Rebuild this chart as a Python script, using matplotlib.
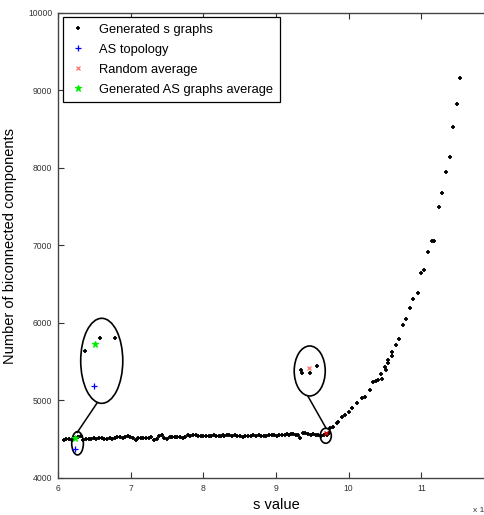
import matplotlib
matplotlib.use("Agg")
import matplotlib.pyplot as plt
from matplotlib.patches import Ellipse

plt.rcParams['font.family'] = ['Liberation Sans', 'DejaVu Sans']

# ---- data ----
flat_x = [6.08, 6.11, 6.15, 6.19, 6.22, 6.25, 6.28, 6.31, 6.35, 6.38, 6.42, 6.45, 6.49, 6.52,
          6.56, 6.60, 6.63, 6.67, 6.71, 6.74, 6.78, 6.81, 6.85, 6.89, 6.92, 6.96, 6.99, 7.03,
          7.07, 7.10, 7.14, 7.17, 7.21, 7.25, 7.28, 7.32, 7.36, 7.39, 7.43, 7.46, 7.50, 7.54,
          7.57, 7.61, 7.64, 7.68, 7.72, 7.75, 7.79, 7.82, 7.86, 7.90, 7.93, 7.97, 8.00, 8.04,
          8.08, 8.11, 8.15, 8.18, 8.22, 8.25, 8.27, 8.29, 8.33, 8.36, 8.40, 8.43, 8.47, 8.50,
          8.54, 8.58, 8.61, 8.65, 8.68, 8.72, 8.76, 8.79, 8.83, 8.86, 8.90, 8.94, 8.97, 9.01,
          9.04, 9.08, 9.12, 9.15, 9.18, 9.21, 9.24, 9.27, 9.30, 9.33, 9.37, 9.40, 9.44, 9.48,
          9.51, 9.55, 9.58, 9.62, 9.66, 9.70, 9.73]
flat_y = [4495, 4500, 4505, 4490, 4520, 4515, 4530, 4545, 4490, 4500, 4500, 4505, 4510, 4505,
          4515, 4512, 4505, 4500, 4515, 4500, 4512, 4525, 4535, 4520, 4535, 4545, 4530, 4520,
          4490, 4515, 4520, 4510, 4515, 4510, 4525, 4490, 4505, 4545, 4555, 4520, 4505, 4530,
          4530, 4535, 4525, 4530, 4520, 4530, 4550, 4545, 4550, 4560, 4548, 4545, 4540, 4538,
          4548, 4540, 4552, 4548, 4545, 4540, 4550, 4545, 4555, 4550, 4545, 4552, 4548, 4545,
          4530, 4545, 4548, 4545, 4552, 4548, 4552, 4545, 4548, 4540, 4555, 4550, 4555, 4545,
          4550, 4555, 4560, 4565, 4560, 4570, 4565, 4560, 4550, 4520, 4575, 4580, 4565, 4560,
          4565, 4555, 4550, 4545, 4550, 4560, 4575]
rise_x = [9.75, 9.79, 9.84, 9.86, 9.91, 9.95, 10.00, 10.05, 10.11, 10.18, 10.23, 10.30,
          10.34, 10.37, 10.40, 10.45, 10.46, 10.50, 10.51, 10.54, 10.54, 10.60, 10.60, 10.65,
          10.69, 10.75, 10.79, 10.85, 10.89, 10.95, 10.99, 11.04, 11.09, 11.14, 11.18, 11.24,
          11.29, 11.34, 11.39, 11.44, 11.49, 11.53]
rise_y = [4641, 4662, 4706, 4727, 4791, 4813, 4855, 4899, 4964, 5028, 5049, 5135,
          5243, 5250, 5262, 5338, 5274, 5436, 5394, 5526, 5484, 5622, 5578, 5712,
          5794, 5974, 6048, 6197, 6310, 6391, 6645, 6688, 6920, 7062, 7062, 7501,
          7681, 7945, 8142, 8525, 8830, 9157]

as_x, as_y = [6.238], [4378]
gen_avg_x, gen_avg_y = [6.234], [4512]
rand_x, rand_y = [9.687], [4577]

# magnified copies shown inside the large ellipses
zoom1_black_x, zoom1_black_y = [6.376, 6.583, 6.78], [5639, 5803, 5803]
zoom1_as_x, zoom1_as_y = [6.496], [5183]
zoom1_gen_x, zoom1_gen_y = [6.51], [5725]
zoom2_black_x = [9.343, 9.356, 9.471, 9.567]
zoom2_black_y = [5394, 5359, 5351, 5445]
zoom2_rand_x, zoom2_rand_y = [9.457], [5415]

labels = ["Generated s graphs", "AS topology", "Random average", "Generated AS graphs average"]

# ---- figure ----
W, H = 484, 515
fig = plt.figure(figsize=(W / 100, H / 100), dpi=100)
ax = fig.add_axes([58 / W, 37 / H, 436 / W, 465 / H])

blk = dict(marker='+', ms=3.2, mew=1.3, ls='none', color='black')
ax.plot(flat_x + rise_x, flat_y + rise_y, label=labels[0], **blk)
ax.plot(as_x, as_y, marker='+', ms=5, mew=0.9, ls='none', color='#0000ff', label=labels[1])
ax.plot(zoom2_rand_x, zoom2_rand_y, marker='x', ms=3.5, mew=1.0, ls='none', color='#ff7f7f',
        label=labels[2])
ax.plot(gen_avg_x, gen_avg_y, marker='*', ms=4.5, mew=0.8, ls='none', color='#00ee00',
        label=labels[3])

ax.plot(zoom1_black_x, zoom1_black_y, **blk)
ax.plot(zoom2_black_x, zoom2_black_y, **blk)
ax.plot(zoom1_as_x, zoom1_as_y, marker='+', ms=5, mew=0.9, ls='none', color='#0000ff')
ax.plot(zoom1_gen_x, zoom1_gen_y, marker='*', ms=4.5, mew=0.8, ls='none', color='#00ee00')
ax.plot(rand_x, rand_y, marker='x', ms=3.5, mew=1.0, ls='none', color='#dd0000')

# ellipses and connectors
for (cx, cy, w, h) in [(6.269, 4448, 0.161, 301), (6.602, 5512, 0.579, 1097),
                       (9.685, 4545, 0.152, 194), (9.464, 5381, 0.427, 645)]:
    ax.add_patch(Ellipse((cx, cy), w, h, fill=False, ec='black', lw=1.2))
ax.plot([6.538, 6.264], [4968, 4587], color='black', lw=1.1)
ax.plot([9.438, 9.69], [5058, 4641], color='black', lw=1.1)

ax.set_xlim(6, 12)
ax.set_ylim(4000, 10000)
ax.set_xticks([6, 7, 8, 9, 10, 11])
ax.set_yticks([4000, 5000, 6000, 7000, 8000, 9000, 10000])
ax.tick_params(direction='in', top=True, right=True, length=4, width=0.8,
               labelsize=6.2, pad=4, colors='#333333')
for s in ax.spines.values():
    s.set_color('#444444')
    s.set_linewidth(1.0)

ax.set_xlabel('s value', fontsize=10.5, labelpad=4)
ax.set_ylabel('Number of biconnected components', fontsize=10.5, labelpad=8)

leg = ax.legend(loc='upper left', bbox_to_anchor=(63 / W, 1 - 17 / H),
                bbox_transform=fig.transFigure, borderaxespad=0, fontsize=9.3,
                numpoints=1, fancybox=False, framealpha=1, edgecolor='black',
                handlelength=1.3, handletextpad=1.0, borderpad=0.5, labelspacing=0.62)
leg.get_frame().set_linewidth(0.9)

fig.text(473 / W, 1 - 511 / H, 'x 1', fontsize=6, va='center', color='#333333')

fig.savefig('out.png', dpi=100)
